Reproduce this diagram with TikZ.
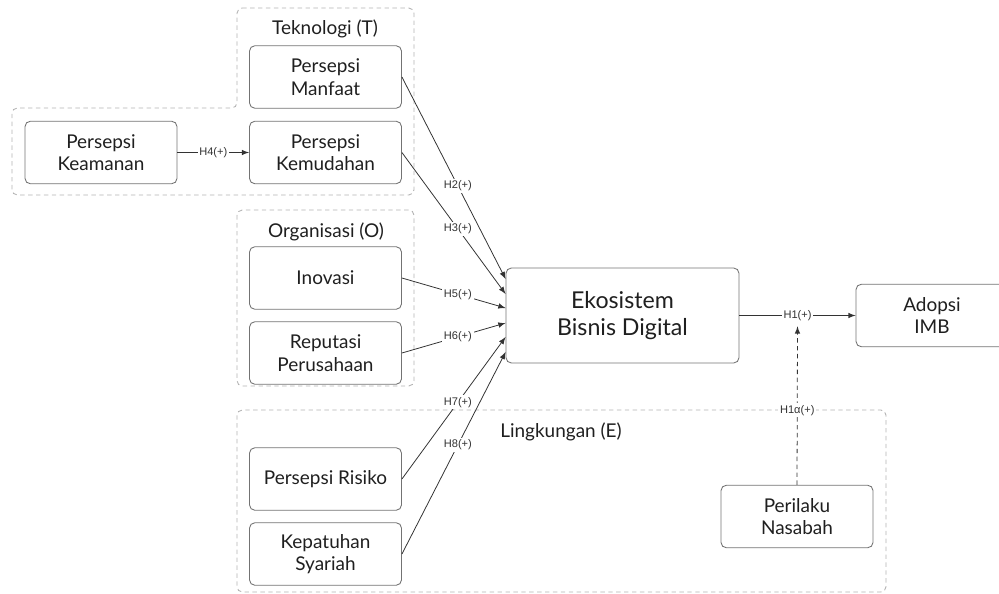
\documentclass[tikz,border=0pt]{standalone}
\usepackage{fontspec}
\setmainfont{Lato}
\newfontfamily\hypfont{Liberation Sans}
\usepackage{tikz}
\usetikzlibrary{arrows}
\tikzstyle{var}=[rectangle,rounded corners=3pt,draw=black!55,line width=0.5pt,minimum width=3.04cm,minimum height=1.25cm,align=center,font=\fontsize{10.8}{12.8}\selectfont,text=black!88]
\tikzstyle{groupbox}=[draw=black!30,dash pattern=on 2.5pt off 2pt,rounded corners=3pt,line width=0.5pt]
\tikzstyle{grouptitle}=[font=\fontsize{10.8}{12}\selectfont,text=black!88]
\tikzstyle{hyp}=[fill=white,inner sep=1pt,font=\hypfont\fontsize{6.3}{7}\selectfont,text=black!80]
\tikzstyle{link}=[->,>=latex,black!80,line width=0.45pt]

\begin{document}
\begin{tikzpicture}[x=0.02cm,y=-0.02cm]
        \useasboundingbox (0,0) rectangle (999,594);
        % groups
        \draw [groupbox] (237,8) -- (414,8) -- (414,195) -- (12,195) -- (12,108) -- (237,108) -- cycle;
        \draw [groupbox] (237,210) rectangle (414,386);
        \draw [groupbox] (237,410) rectangle (886,592);
        \node at (325,29) [grouptitle] (tekno) {Teknologi (T)};
        \node at (326,232) [grouptitle] (organ) {Organisasi (O)};
        \node at (561,432) [grouptitle] (lingk) {Lingkungan (E)};
        % variables
        \node at (101,152.5) [var] (keamanan) {Persepsi\\Keamanan};
        \node at (325.5,77) [var] (manfaat) {Persepsi\\Manfaat};
        \node at (325.5,152.5) [var] (kemudahan) {Persepsi\\Kemudahan};
        \node at (325.5,278) [var] (inovasi) {Inovasi};
        \node at (325.5,353) [var] (reputasi) {Reputasi\\Perusahaan};
        \node at (325.5,479) [var] (risiko) {Persepsi Risiko};
        \node at (325.5,554) [var] (syariah) {Kepatuhan\\Syariah};
        \node at (797,516.5) [var] (perilaku) {Perilaku\\Nasabah};
        \node at (622.5,315.5) [var,minimum width=4.66cm,minimum height=1.9cm,font=\fontsize{13.2}{15}\selectfont] (eko) {Ekosistem\\Bisnis Digital};
        \node at (932,315.5) [var] (adopsi) {Adopsi\\IMB};
        % hypotheses
        \draw [link] (keamanan) -- node [hyp] (h4) {H4(+)} (kemudahan);
        \foreach \src/\dy/\h in {manfaat/0.73/H2,kemudahan/0.43/H3,inovasi/0.15/H5,reputasi/-0.15/H6,risiko/-0.43/H7,syariah/-0.73/H8}
          \draw [link] (\src.east) -- node [hyp,pos=0.54] (l\h) {\h(+)} ([yshift=\dy cm]eko.west);
        \draw [link] (eko) -- node [hyp] (h1) {H1(+)} (adopsi);
        \draw [link,dash pattern=on 2.5pt off 2pt] (perilaku.north) -- node [hyp,pos=0.47] (h1a) {H1α(+)} ([yshift=-2pt]h1.south);
      \end{tikzpicture}
\end{document}
